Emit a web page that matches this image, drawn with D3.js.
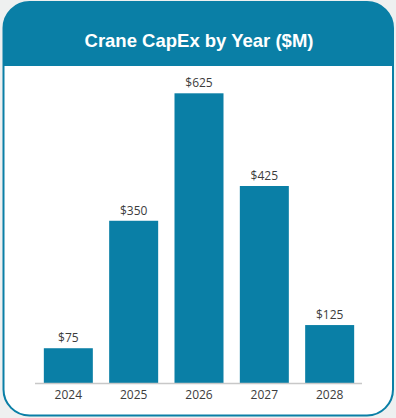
<!DOCTYPE html>
<html>
<head>
<meta charset="utf-8">
<script src="https://cdn.jsdelivr.net/npm/d3@7"></script>
<style>
  body { margin: 0; background: #eef0f0; }
  #chart { width: 396px; height: 418px; }
</style>
</head>
<body>
<div id="chart"></div>
<script>
// chart data
const years = ["2024", "2025", "2026", "2027", "2028"];
const capex = [75, 350, 625, 425, 125];
const valueLabels = ["$75", "$350", "$625", "$425", "$125"];
const title = "Crane CapEx by Year ($M)";

const W = 396, H = 418;
const teal = "#0a7fa6";

const svg = d3.select("#chart").append("svg")
  .attr("width", W)
  .attr("height", H);

// card outline with rounded corners
const card = { x: 3.5, y: 2, w: 389.5, h: 413.5, r: 26 };

svg.append("defs").append("clipPath").attr("id", "cardClip")
  .append("rect")
  .attr("x", card.x).attr("y", card.y)
  .attr("width", card.w).attr("height", card.h)
  .attr("rx", card.r);

svg.append("rect")
  .attr("x", card.x).attr("y", card.y)
  .attr("width", card.w).attr("height", card.h)
  .attr("rx", card.r)
  .attr("fill", "#fff");

// header band
svg.append("rect")
  .attr("clip-path", "url(#cardClip)")
  .attr("x", 0).attr("y", 0)
  .attr("width", W).attr("height", 66)
  .attr("fill", teal);

svg.append("text")
  .attr("x", W / 2 + 1)
  .attr("y", 46.5)
  .attr("text-anchor", "middle")
  .attr("fill", "#fff")
  .style("font-family", "'Liberation Sans', Arial, sans-serif")
  .style("font-weight", "bold")
  .style("font-size", "18.5px")
  .text(title);

svg.append("rect")
  .attr("x", card.x).attr("y", card.y)
  .attr("width", card.w).attr("height", card.h)
  .attr("rx", card.r)
  .attr("fill", "none")
  .attr("stroke", teal)
  .attr("stroke-width", 2);

// scales
const x = d3.scaleBand()
  .domain(years)
  .range([27.5, 370.5])
  .padding(0.25);

const y = d3.scaleLinear()
  .domain([0, 625])
  .range([383, 93.3]);

const g = svg.append("g");

g.selectAll(".bar")
  .data(years)
  .enter().append("rect")
  .attr("class", "bar")
  .attr("x", d => x(d))
  .attr("y", (d, i) => y(capex[i]))
  .attr("width", x.bandwidth())
  .attr("height", (d, i) => y(0) - y(capex[i]))
  .attr("fill", teal);

g.selectAll(".val")
  .data(years)
  .enter().append("text")
  .attr("class", "val")
  .attr("x", d => x(d) + x.bandwidth() / 2)
  .attr("y", (d, i) => y(capex[i]) - 6)
  .attr("text-anchor", "middle")
  .attr("fill", "#3c3c3c")
  .style("font-family", "'Open Sans', sans-serif")
  .style("font-size", "12px")
  .text((d, i) => valueLabels[i]);

// x axis
const axis = g.append("g")
  .attr("transform", `translate(0,${y(0)})`)
  .call(d3.axisBottom(x).tickSize(0).tickPadding(7));

axis.select(".domain")
  .attr("d", "M35,0.5H362")
  .attr("stroke", "#c8c8c8")
  .attr("stroke-width", 1.5);

axis.selectAll("text")
  .attr("fill", "#3c3c3c")
  .style("font-family", "'Open Sans', sans-serif")
  .style("font-size", "12px");
</script>
</body>
</html>
